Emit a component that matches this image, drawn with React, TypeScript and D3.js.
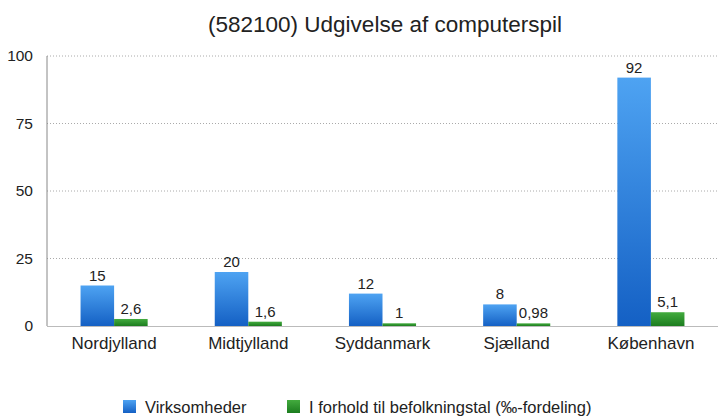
import { useEffect, useRef } from 'react';
import * as d3 from 'd3';

const regions = ['Nordjylland', 'Midtjylland', 'Syddanmark', 'Sjælland', 'København'];
const virksomheder = [15, 20, 12, 8, 92];
const befolkning = [2.6, 1.6, 1, 0.98, 5.1];
const yTicks = [0, 25, 50, 75, 100];
const seriesNames = ['Virksomheder', 'I forhold til befolkningstal (‰-fordeling)'];

const fmt = (v: number) => String(v).replace('.', ',');

export default function App() {
  const svgRef = useRef<SVGSVGElement>(null);

  useEffect(() => {
    if (!svgRef.current) return;
    const W = 718, H = 416;
    const svg = d3.select(svgRef.current);
    svg.selectAll('*').remove();
    const font = 'Liberation Sans, Arial, sans-serif';

    const defs = svg.append('defs');
    const blue = defs.append('linearGradient').attr('id', 'gBlue').attr('x1', 0).attr('y1', 0).attr('x2', 0).attr('y2', 1);
    blue.append('stop').attr('offset', '0%').attr('stop-color', '#4ea3f2');
    blue.append('stop').attr('offset', '100%').attr('stop-color', '#1460c4');
    const green = defs.append('linearGradient').attr('id', 'gGreen').attr('x1', 0).attr('y1', 0).attr('x2', 0).attr('y2', 1);
    green.append('stop').attr('offset', '0%').attr('stop-color', '#43ab3e');
    green.append('stop').attr('offset', '100%').attr('stop-color', '#1c7d1f');

    const margin = { top: 56, right: 0, bottom: 90, left: 47 };
    const width = W - margin.left - margin.right;
    const height = H - margin.top - margin.bottom;

    const x = d3.scaleBand<string>().domain(regions).range([0, width]).paddingInner(0.5).paddingOuter(0.25);
    const y = d3.scaleLinear().domain([0, 100]).range([height, 0]);

    const g = svg.append('g').attr('transform', `translate(${margin.left},${margin.top})`);

    // title
    svg.append('text')
      .attr('x', 385).attr('y', 32)
      .attr('text-anchor', 'middle')
      .style('font-family', font).style('font-size', '22.5px').attr('fill', '#222')
      .text('(582100) Udgivelse af computerspil');

    // gridlines
    g.selectAll('.grid')
      .data(yTicks.filter(t => t > 0))
      .enter().append('line')
      .attr('x1', 0).attr('x2', width)
      .attr('y1', d => y(d)).attr('y2', d => y(d))
      .attr('stroke', '#aaa').attr('stroke-width', 1).attr('stroke-dasharray', '1,2');

    // y tick labels
    g.selectAll('.ylab')
      .data(yTicks)
      .enter().append('text')
      .attr('x', -14).attr('y', d => y(d) + 5)
      .attr('text-anchor', 'end')
      .style('font-family', font).style('font-size', '15.5px').attr('fill', '#222')
      .text(d => d);

    const bw = x.bandwidth() / 2;

    // blue bars
    g.selectAll('.bar-v')
      .data(regions)
      .enter().append('rect')
      .attr('x', d => x(d)!)
      .attr('y', (_, i) => y(virksomheder[i]))
      .attr('width', bw)
      .attr('height', (_, i) => height - y(virksomheder[i]))
      .attr('fill', 'url(#gBlue)');

    // green bars
    g.selectAll('.bar-b')
      .data(regions)
      .enter().append('rect')
      .attr('x', d => x(d)! + bw)
      .attr('y', (_, i) => y(befolkning[i]))
      .attr('width', bw)
      .attr('height', (_, i) => height - y(befolkning[i]))
      .attr('fill', 'url(#gGreen)');

    // value labels
    g.selectAll('.lab-v')
      .data(regions)
      .enter().append('text')
      .attr('x', d => x(d)! + bw / 2)
      .attr('y', (_, i) => y(virksomheder[i]) - 5)
      .attr('text-anchor', 'middle')
      .style('font-family', font).style('font-size', '15px').attr('fill', '#222')
      .text((_, i) => fmt(virksomheder[i]));

    g.selectAll('.lab-b')
      .data(regions)
      .enter().append('text')
      .attr('x', d => x(d)! + bw * 1.5)
      .attr('y', (_, i) => y(befolkning[i]) - 5)
      .attr('text-anchor', 'middle')
      .style('font-family', font).style('font-size', '15px').attr('fill', '#222')
      .text((_, i) => fmt(befolkning[i]));

    // axes lines
    g.append('line').attr('x1', 0).attr('x2', 0).attr('y1', 0).attr('y2', height)
      .attr('stroke', '#888').attr('stroke-width', 1);
    g.append('line').attr('x1', 0).attr('x2', width).attr('y1', height + 0.5).attr('y2', height + 0.5)
      .attr('stroke', '#bbb').attr('stroke-width', 1);

    // category labels
    g.selectAll('.xlab')
      .data(regions)
      .enter().append('text')
      .attr('x', d => x(d)! + x.bandwidth() / 2)
      .attr('y', height + 23)
      .attr('text-anchor', 'middle')
      .style('font-family', font).style('font-size', '17px').attr('fill', '#222')
      .text(d => d);

    // legend
    const legend = svg.append('g').attr('transform', `translate(123, 400)`);
    const offsets = [0, 164];
    const fills = ['url(#gBlue)', 'url(#gGreen)'];
    seriesNames.forEach((name, i) => {
      legend.append('rect')
        .attr('x', offsets[i]).attr('y', 0)
        .attr('width', 13).attr('height', 13)
        .attr('fill', fills[i]);
      legend.append('text')
        .attr('x', offsets[i] + 22).attr('y', 13)
        .style('font-family', font).style('font-size', '16.5px').attr('fill', '#222')
        .text(name);
    });
  }, []);

  return (
    <svg ref={svgRef} width={718} height={416}
      style={{ position: 'absolute', left: 0, top: 0, background: '#fff' }} />
  );
}
